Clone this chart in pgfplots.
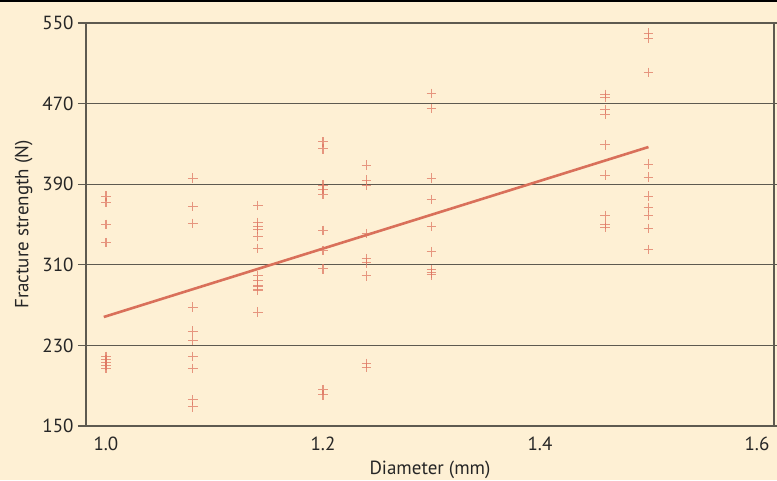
\documentclass[border=0pt]{standalone}
\usepackage{pgfplots}
\pgfplotsset{compat=1.18}
\usepackage{fontspec}
\setmainfont{PT Sans}
\definecolor{bgcream}{HTML}{FEF0D4}
\definecolor{gridc}{HTML}{5E5A50}
\definecolor{markc}{HTML}{DE7762}
\definecolor{linec}{HTML}{D9705A}
\begin{document}
\begin{tikzpicture}[x=1pt,y=1pt]
\fill[bgcream] (0,0) rectangle (777,480);
\draw[black,line width=1.6pt] (0,479.2) -- (777,479.2);
\begin{axis}[
  at={(86pt,54pt)}, anchor=south west,
  width=688pt, height=403pt, scale only axis,
  xmin=0.9816, xmax=1.6157, ymin=150, ymax=550,
  xtick={1.0,1.2,1.4,1.6},
  xticklabels={1.0,1.2,1.4,1.6},
  ytick={150,230,310,390,470,550},
  ymajorgrids,
  grid style={gridc,line width=1.3pt},
  axis line style={gridc,line width=1.1pt},
  tick style={gridc,line width=1.1pt},
  x tick style={draw=none},
  ytick align=outside,
  major tick length=8pt,
  tick label style={font=\fontsize{19}{22}\selectfont,text=black!85},
  /pgf/number format/assume math mode=true,
  yticklabel style={xshift=-1pt},
  xticklabel style={yshift=-7pt},
  xlabel={Diameter (mm)},
  ylabel={Fracture strength (N)},
  label style={font=\fontsize{19}{22}\selectfont,text=black!85},
  xlabel style={yshift=-3.5pt},
  ylabel style={yshift=3pt},
  clip=false,
]
\addplot[only marks, mark=+, mark size=4.8pt, mark options={markc, line width=1.1pt, opacity=0.75}] coordinates {
(1.0,378) (1.0,372) (1.0,350) (1.0,332) (1.0,219) (1.0,216) (1.0,213) (1.0,210) (1.0,207)
(1.08,396) (1.08,368) (1.08,351) (1.08,268) (1.08,244) (1.08,235) (1.08,219) (1.08,207) (1.08,176) (1.08,169)
(1.14,369) (1.14,352) (1.14,348) (1.14,345) (1.14,338) (1.14,326) (1.14,299) (1.14,294) (1.14,289) (1.14,285) (1.14,263)
(1.2,432) (1.2,425) (1.2,389) (1.2,385) (1.2,380) (1.2,344) (1.2,324) (1.2,306) (1.2,186) (1.2,181)
(1.24,409) (1.24,394) (1.24,389) (1.24,341) (1.24,316) (1.24,312) (1.24,299) (1.24,212) (1.24,208)
(1.3,480) (1.3,465) (1.3,396) (1.3,375) (1.3,348) (1.3,323) (1.3,305) (1.3,302) (1.3,300)
(1.46,479) (1.46,476) (1.46,464) (1.46,459) (1.46,429) (1.46,399) (1.46,359) (1.46,350) (1.46,347)
(1.5,540) (1.5,535) (1.5,501) (1.5,410) (1.5,397) (1.5,378) (1.5,367) (1.5,359) (1.5,346) (1.5,325)
};
\addplot[linec, line width=2.6pt] coordinates {(0.998,258.2) (1.5,426.9)};
\end{axis}
\pgfresetboundingbox
\path (0,0) rectangle (777,480);
\end{tikzpicture}
\end{document}
